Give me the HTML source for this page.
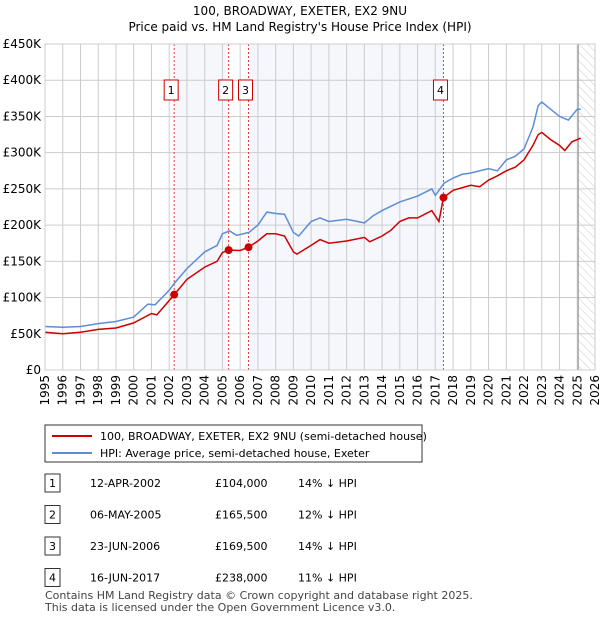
<!DOCTYPE html>
<html><head><meta charset="utf-8"><style>
body{margin:0;background:#fff;font-family:"Liberation Sans","DejaVu Sans",sans-serif;}
svg text{font-family:"DejaVu Sans","Liberation Sans",sans-serif;}
</style></head><body>
<svg id="c" width="600" height="620" xmlns="http://www.w3.org/2000/svg">
<defs><pattern id="h" width="6" height="6" patternUnits="userSpaceOnUse" patternTransform="rotate(-45)"><line x1="0" y1="0" x2="0" y2="6" stroke="#ccc" stroke-width="1"/></pattern></defs>
<text x="300" y="15" text-anchor="middle" font-size="12">100, BROADWAY, EXETER, EX2 9NU</text>
<text x="300" y="31" text-anchor="middle" font-size="12">Price paid vs. HM Land Registry's House Price Index (HPI)</text>
<g id="plot"></g>
<g>
<rect x="45" y="425" width="377" height="37" fill="#fff" stroke="#333"/>
<line x1="52" y1="436" x2="92" y2="436" stroke="#cc0000" stroke-width="2"/>
<text x="100" y="440" font-size="11">100, BROADWAY, EXETER, EX2 9NU (semi-detached house)</text>
<line x1="52" y1="453" x2="92" y2="453" stroke="#5b8ed6" stroke-width="2"/>
<text x="100" y="457" font-size="11">HPI: Average price, semi-detached house, Exeter</text>
</g>
<g id="tbl" font-size="11"></g>
<text x="45" y="599" font-size="11" fill="#444">Contains HM Land Registry data © Crown copyright and database right 2025.</text>
<text x="45" y="611" font-size="11" fill="#444">This data is licensed under the Open Government Licence v3.0.</text>
</svg>
<script>
const years=[1995,1996,1997,1998,1999,2000,2001,2002,2003,2004,2005,2006,2007,2008,2009,2010,2011,2012,2013,2014,2015,2016,2017,2018,2019,2020,2021,2022,2023,2024,2025,2026];
const yTicks=[0,50,100,150,200,250,300,350,400,450];
const yTickLabels=["£0","£50K","£100K","£150K","£200K","£250K","£300K","£350K","£400K","£450K"];
const hpiT=[1995,1996,1997,1998,1999,2000,2000.8,2001.2,2002,2002.3,2003,2004,2004.7,2005,2005.4,2005.8,2006.5,2007,2007.5,2008,2008.5,2009,2009.3,2010,2010.5,2011,2012,2013,2013.5,2014,2015,2016,2016.8,2017,2017.5,2018,2018.5,2019,2020,2020.5,2021,2021.5,2022,2022.5,2022.8,2023,2023.5,2024,2024.5,2025,2025.2];
const hpiV=[60,59,60,64,67,73,91,90,110,120,140,163,172,188,192,186,190,200,218,216,215,190,185,205,210,205,208,203,213,220,232,240,250,241,258,265,270,272,278,275,290,295,305,335,365,370,360,350,345,360,360];
const ppT=[1995,1996,1997,1998,1999,2000,2001,2001.3,2002.28,2003,2004,2004.7,2005,2005.35,2006,2006.47,2007,2007.5,2008,2008.5,2009,2009.2,2010,2010.5,2011,2012,2013,2013.3,2014,2014.5,2015,2015.5,2016,2016.8,2017.2,2017.46,2018,2019,2019.5,2020,2020.5,2021,2021.5,2022,2022.5,2022.8,2023,2023.5,2024,2024.3,2024.7,2025,2025.2];
const ppV=[52,50,52,56,58,65,78,76,104,125,142,150,162,165.5,165,169.5,178,188,188,185,163,160,172,180,175,178,183,177,185,193,205,210,210,220,205,238,248,255,253,262,268,275,280,290,310,325,328,318,310,303,315,318,320];
const saleT=[2002.28,2005.35,2006.47,2017.46];
const saleV=[104,165.5,169.5,238];
const saleDates=["12-APR-2002","06-MAY-2005","23-JUN-2006","16-JUN-2017"];
const salePrices=["£104,000","£165,500","£169,500","£238,000"];
const saleDiffs=["14% ↓ HPI","12% ↓ HPI","14% ↓ HPI","11% ↓ HPI"];
const X0=45,X1=595,Y0=370,Y1=44;
const x=t=>X0+(t-1995)/(2026-1995)*(X1-X0);
const y=v=>Y0-v/450*(Y0-Y1);
const NS="http://www.w3.org/2000/svg";
function mk(p,tag,at){const e=document.createElementNS(NS,tag);for(const k in at)e.setAttribute(k,at[k]);p.appendChild(e);return e;}
const g=document.getElementById('plot');
const sh1=mk(g,'rect',{x:x(saleT[0]),y:Y1,width:x(saleT[1])-x(saleT[0]),height:Y0-Y1,fill:'#eef2fc',opacity:0.6});


const sh2=mk(g,'rect',{x:x(saleT[2]),y:Y1,width:x(saleT[3])-x(saleT[2]),height:Y0-Y1,fill:'#eef2fc',opacity:0.6});


const ht=mk(g,'rect',{x:x(2025.0),y:Y1,width:X1-x(2025.0),height:Y0-Y1,fill:'url(#h)'});


years.forEach(t=>{const l=mk(g,'line',{x1:x(t),x2:x(t),y1:Y1,y2:Y0,stroke:'#ccc'});


const tx=mk(g,'text',{x:0,y:0,'font-size':12,'text-anchor':'end',transform:`translate(${x(t)+4},${Y0+5}) rotate(-90)`});tx.textContent=t;

});
yTicks.forEach((v,i)=>{const l=mk(g,'line',{x1:X0,x2:X1,y1:y(v),y2:y(v),stroke:'#ccc'});


const tx=mk(g,'text',{x:X0-4,y:y(v)+4,'font-size':12,'text-anchor':'end'});tx.textContent=yTickLabels[i];

});
const ev=mk(g,'line',{x1:x(2025.05),x2:x(2025.05),y1:Y1,y2:Y0,stroke:'#888'});


saleT.forEach((t,i)=>{const l=mk(g,'line',{x1:x(t),x2:x(t),y1:Y1,y2:Y0,stroke:'#e04040','stroke-dasharray':'2,2'});


const r=mk(g,'rect',{x:x(t)-3-7,y:80,width:14,height:20,fill:'#fff',stroke:'#cc0000'});


const tx=mk(g,'text',{x:x(t)-3,y:94,'font-size':11,'text-anchor':'middle'});tx.textContent=i+1;

});
const path=(T,V)=>T.map((t,i)=>(i?'L':'M')+x(t).toFixed(1)+','+y(V[i]).toFixed(1)).join('');
const hp=mk(g,'path',{d:path(hpiT,hpiV),fill:'none',stroke:'#5b8ed6','stroke-width':1.5});


const pp=mk(g,'path',{d:path(ppT,ppV),fill:'none',stroke:'#cc0000','stroke-width':1.5});


saleT.forEach((t,i)=>{const c=mk(g,'circle',{cx:x(t),cy:y(saleV[i]),r:4,fill:'#cc0000'});

});
const b=mk(g,'rect',{x:X0,y:Y1,width:X1-X0,height:Y0-Y1,fill:'none',stroke:'#ccc'});


const tb=document.getElementById('tbl');
saleDates.forEach((d,i)=>{const yy=483+i*31.5;
const r=mk(tb,'rect',{x:45,y:yy-9,width:15,height:18,fill:'#fff',stroke:'#333'});


const cells=[[i+1,49],[d,90],[salePrices[i],215],[saleDiffs[i],298]];
cells.forEach(([s,xx])=>{const tx=mk(tb,'text',{x:xx,y:yy+4});tx.textContent=s;

});});
</script>
</body></html>
